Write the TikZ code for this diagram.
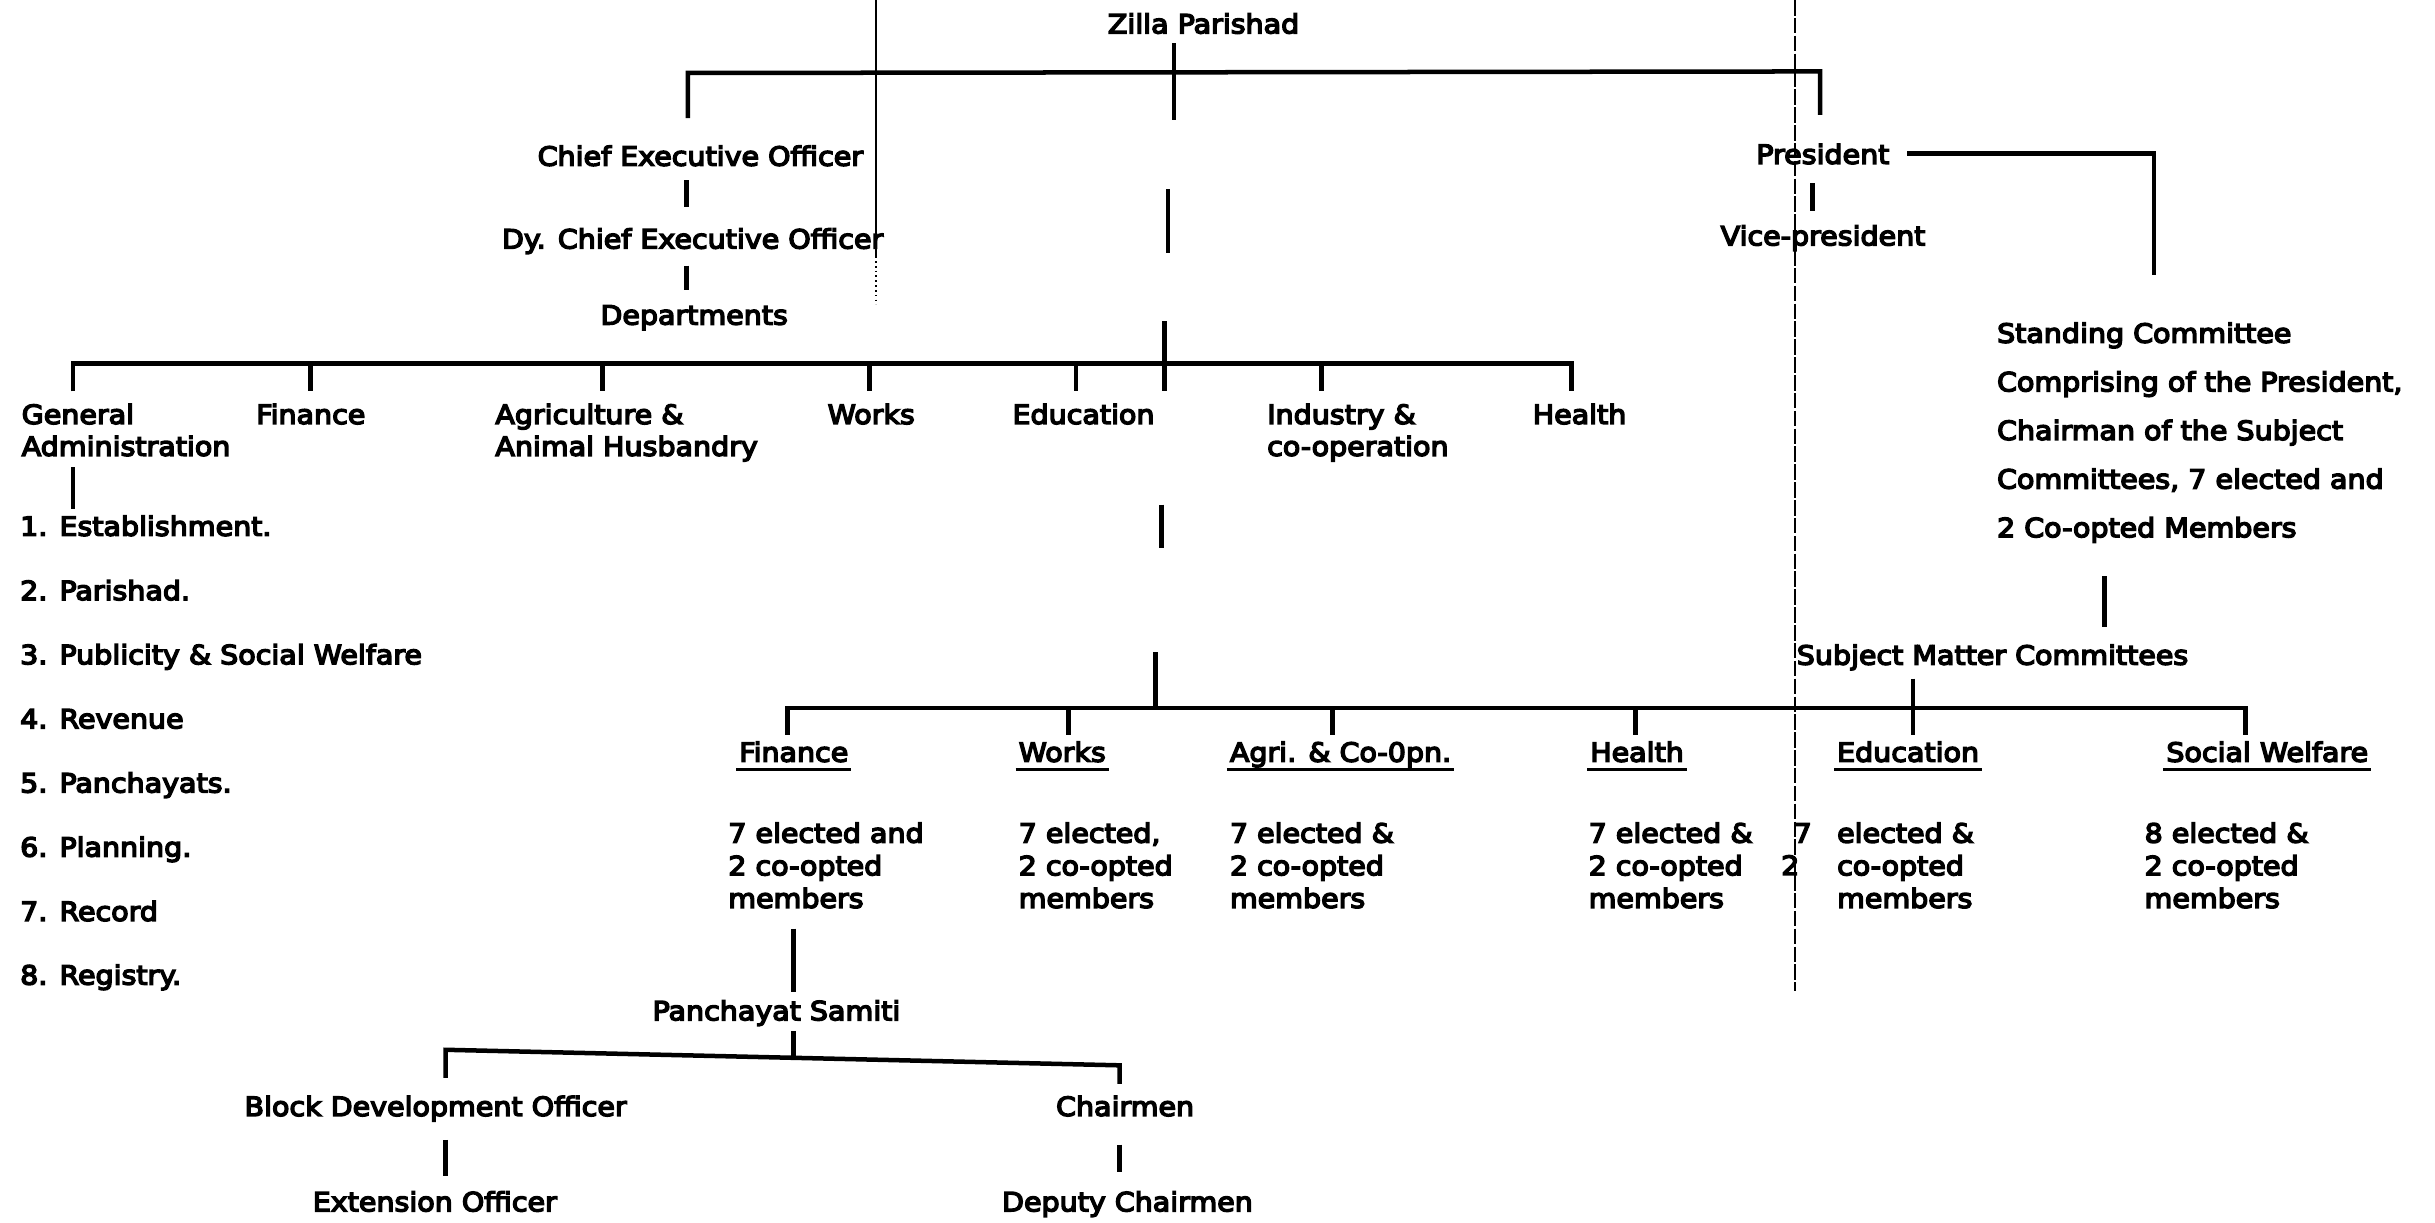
\documentclass[tikz,border=0pt]{standalone}
\usepackage{fontspec}
\setmainfont{DejaVu Sans}[FakeStretch=1.08,FakeBold=5.5]
\newcommand\mlines[1]{\begin{tabular}[t]{@{}l@{}}#1\end{tabular}}
\begin{document}
\begin{tikzpicture}[x=1pt,y=-1pt,
  every node/.style={inner sep=0pt,outer sep=0pt,font=\fontsize{17}{21}\selectfont},
  txt/.style={anchor=base west},
  ctr/.style={anchor=base},
  conn/.style={line width=2.9pt,line join=miter},
  uline/.style={line width=2.2pt},
  fold/.style={line width=1.1pt},
  foldd/.style={line width=1.1pt,dash pattern=on 10pt off 1.5pt}]
\useasboundingbox[fill=white] (0,0) rectangle (1568,786.9);

% ---------- nodes: left / centre ----------
\node[ctr] (zp) at (775,21.5) {Zilla Parishad};
\node[ctr] (ceo) at (451,106.7) {Chief Executive Officer};
\node[ctr] (dceo) at (446,160) {Dy. Chief Executive Officer};
\node[ctr] (dept) at (447,209) {Departments};

\node[txt] (dga) at (14,273) {\fontsize{17}{20.5}\selectfont\mlines{General\\Administration}};
\node[txt] (dfin) at (165,273) {Finance};
\node[txt] (dagr) at (319,273) {\fontsize{17}{20.5}\selectfont\mlines{Agriculture \&\\Animal Husbandry}};
\node[txt] (dwrk) at (533,273) {Works};
\node[txt] (dedu) at (652,273) {Education};
\node[txt] (dind) at (816,273) {\fontsize{17}{20.5}\selectfont\mlines{Industry \&\\co-operation}};
\node[txt] (dhlt) at (987,273) {Health};

\node[txt] (l1) at (13,345) {1. Establishment.};
\node[txt] (l2) at (13,386.4) {2. Parishad.};
\node[txt] (l3) at (13,427.7) {3. Publicity \& Social Welfare};
\node[txt] (l4) at (13,469) {4. Revenue};
\node[txt] (l5) at (13,510.3) {5. Panchayats.};
\node[txt] (l6) at (13,551.6) {6. Planning.};
\node[txt] (l7) at (13,593) {7. Record};
\node[txt] (l8) at (13,634) {8. Registry.};

% ---------- nodes: right ----------
\node[txt] (pres) at (1131,105.5) {President};
\node[txt] (vp) at (1108,158) {Vice-president};
\node[txt] (stc) at (1286,220.7) {\fontsize{17}{31.3}\selectfont\mlines{Standing Committee\\Comprising of the President,\\Chairman of the Subject\\Committees, 7 elected and\\2 Co-opted Members}};
\node[txt] (smc) at (1157,428) {Subject Matter Committees};

% ---------- committees ----------
\node[txt] (cfin) at (476,490.5) {Finance};
\node[txt] (cwrk) at (656,490.5) {Works};
\node[txt] (cagr) at (792,490.5) {Agri. \& Co-0pn.};
\node[txt] (chlt) at (1024,490.5) {Health};
\node[txt] (cedu) at (1183,490.5) {Education};
\node[txt] (csw) at (1395,490.5) {Social Welfare};
\foreach \n in {cfin,cwrk,cagr,chlt,cedu,csw}
  \draw[uline] ([shift={(-2pt,-5pt)}]\n.base west) -- ([shift={(2pt,-5pt)}]\n.base east);

\node[txt] (mfin) at (469,542.6) {\mlines{7 elected and\\2 co-opted\\members}};
\node[txt] (mwrk) at (656,542.6) {\mlines{7 elected,\\2 co-opted\\members}};
\node[txt] (magr) at (792,542.6) {\mlines{7 elected \&\\2 co-opted\\members}};
\node[txt] (mhlt) at (1023,542.6) {\mlines{7 elected \&\\2 co-opted\\members}};
\node[txt] (e7) at (1155,542.6) {7};
\node[txt] (e2) at (1147,563.4) {2};
\node[txt] (medu) at (1183,542.6) {\mlines{elected \&\\co-opted\\members}};
\node[txt] (msw) at (1381,542.6) {\mlines{8 elected \&\\2 co-opted\\members}};

% ---------- panchayat samiti ----------
\node[ctr] (ps) at (500,657) {Panchayat Samiti};
\node[ctr] (bdo) at (280.5,718.6) {Block Development Officer};
\node[ctr] (chm) at (724.5,718.6) {Chairmen};
\node[ctr] (ext) at (280,780) {Extension Officer};
\node[ctr] (dch) at (726,780) {Deputy Chairmen};

% ---------- coordinates ----------
\coordinate (z1) at (756,28);   \coordinate (z2) at (756,77);
\coordinate (t1) at (443,76);   \coordinate (tl) at (443,47);
\coordinate (tr) at (1172,46);  \coordinate (t2) at (1172,74);
\coordinate (c1) at (442,116);  \coordinate (c2) at (442,133);
\coordinate (c3) at (442,171);  \coordinate (c4) at (442,187);
\coordinate (s1a) at (752,122); \coordinate (s1b) at (752,163);
\coordinate (s2a) at (750,207); \coordinate (s2b) at (750,252);
\coordinate (s3a) at (748,325); \coordinate (s3b) at (748,353);
\coordinate (s4a) at (744,420); \coordinate (s4b) at (744,456);
\coordinate (dl) at (47,234);
\foreach \x [count=\i] in {47,200,388,560,693,851,1012}
  \coordinate (dd\i) at (\x,252);
\coordinate (ga1) at (47,301);  \coordinate (ga2) at (47,328);
\coordinate (cl) at (507,456);
\foreach \x [count=\i] in {507,688,858,1053,1232,1446}
  \coordinate (cd\i) at (\x,473);
\coordinate (sm1) at (1232,437);
\coordinate (st1) at (1355,371); \coordinate (st2) at (1355,404);
\coordinate (p1) at (1228,99);  \coordinate (p2) at (1387,99); \coordinate (p3) at (1387,177);
\coordinate (v1) at (1167,118); \coordinate (v2) at (1167,136);
\coordinate (f1) at (511,598);  \coordinate (f2) at (511,639);
\coordinate (q1) at (511,664);  \coordinate (q2) at (511,681);
\coordinate (ll) at (287,676);  \coordinate (lr) at (721,686);
\coordinate (ld1) at (287,694); \coordinate (ld2) at (721,698);
\coordinate (b1) at (287,734);  \coordinate (b2) at (287,757);
\coordinate (h1) at (721,737);  \coordinate (h2) at (721,755);
\coordinate (fa) at (564,0);    \coordinate (fb) at (564,165); \coordinate (fc) at (564,196);
\coordinate (ga) at (1156,0);   \coordinate (gb) at (1156,638);

% ---------- connectors ----------
\draw[conn] (z1) -- (z2);
\draw[conn] (t1) -- (tl) -- (tr) -- (t2);
\draw[conn] (c1) -- (c2);
\draw[conn] (c3) -- (c4);
\draw[conn] (s1a) -- (s1b);
\draw[conn] (s2a) -- (s2b);
\draw[conn] (s3a) -- (s3b);
\draw[conn] (s4a) -- (s4b);
\draw[conn] (dd1) -- (dd1 |- dl) -- (dd7 |- dl) -- (dd7);
\foreach \i in {2,...,6} \draw[conn] (dd\i |- dl) -- (dd\i);
\draw[conn] (ga1) -- (ga2);
\draw[conn] (cd1) -- (cd1 |- cl) -- (cd6 |- cl) -- (cd6);
\foreach \i in {2,...,5} \draw[conn] (cd\i |- cl) -- (cd\i);
\draw[conn] (sm1) -- (sm1 |- cl);
\draw[conn] (st1) -- (st2);
\draw[conn] (p1) -- (p2) -- (p3);
\draw[conn] (v1) -- (v2);
\draw[conn] (f1) -- (f2);
\draw[conn] (q1) -- (q2);
\draw[conn] (ld1) -- (ll) -- (lr) -- (ld2);
\draw[conn] (b1) -- (b2);
\draw[conn] (h1) -- (h2);

% thin vertical rules of the page
\draw[fold] (fa) -- (fb);
\draw[fold,dotted] (fb) -- (fc);
\draw[foldd] (ga) -- (gb);
\end{tikzpicture}
\end{document}
